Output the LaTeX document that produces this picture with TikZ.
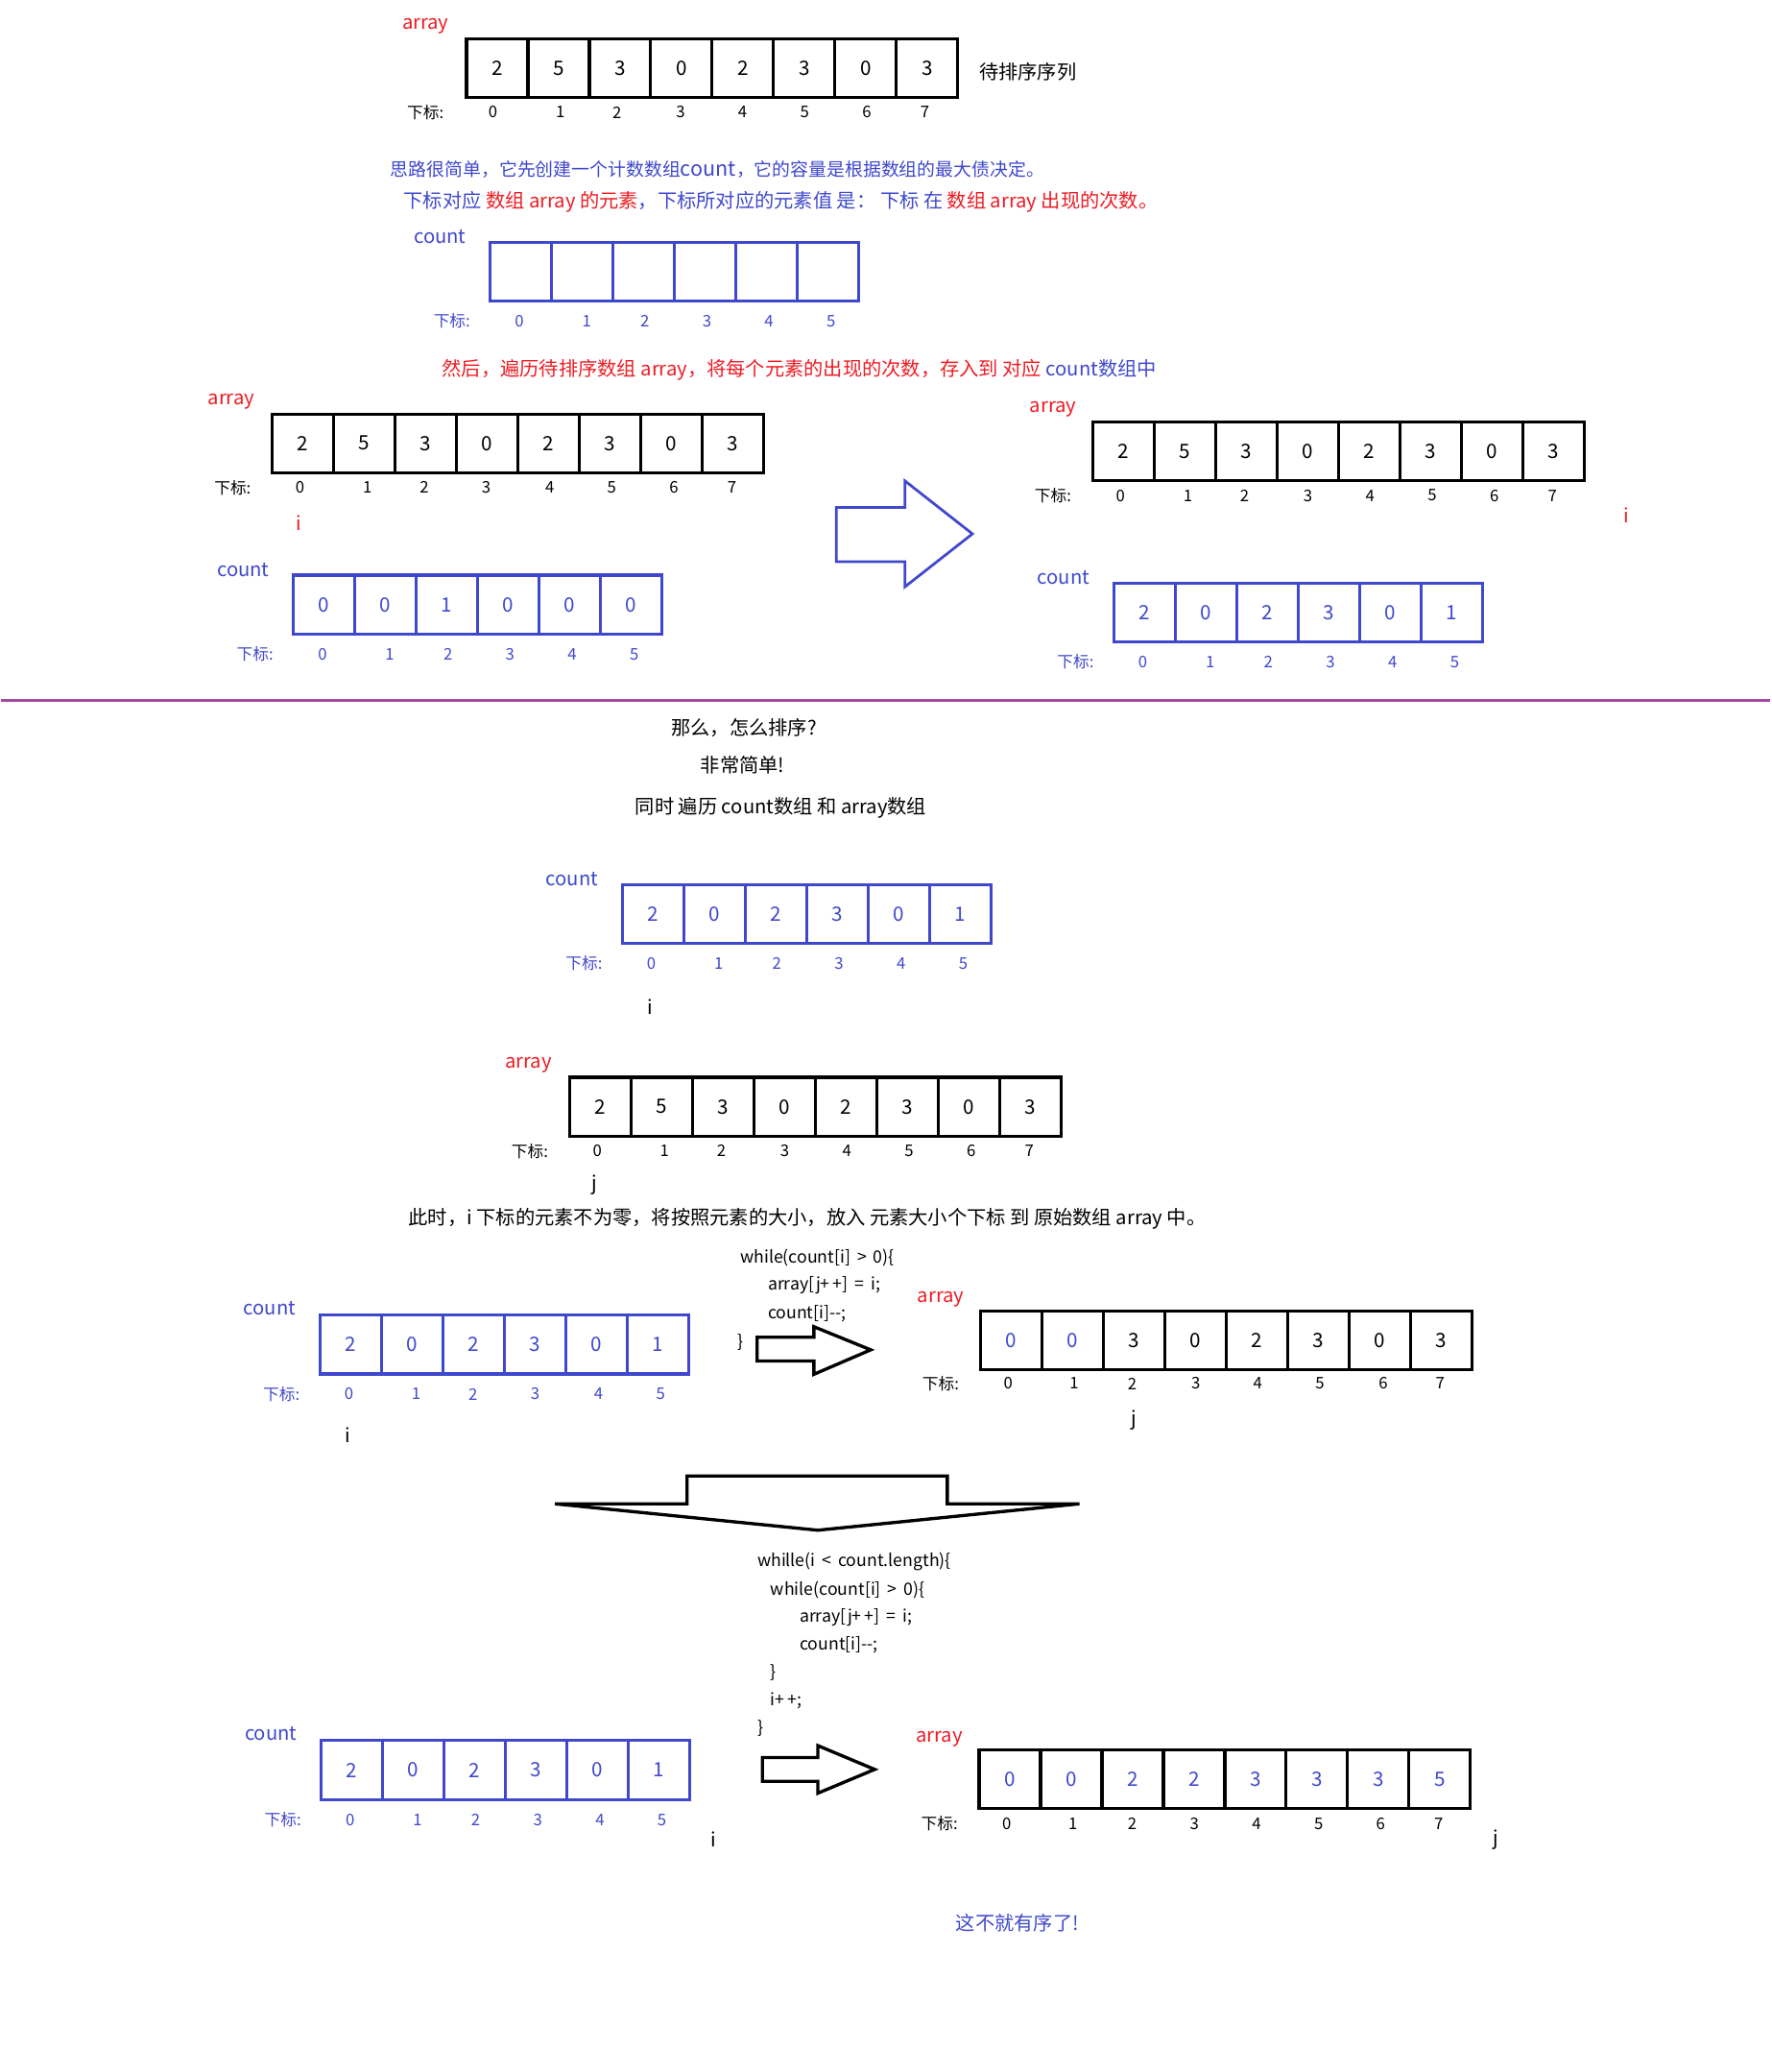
\documentclass[tikz,border=0pt]{standalone}
\usepackage{fontspec}
\setmainfont{Noto Sans CJK SC}
\usepackage{xcolor}
\definecolor{paintblue}{HTML}{3F48CC}
\definecolor{paintred}{HTML}{ED1C24}
\definecolor{paintpurple}{HTML}{A349A4}

\tikzset{
  lbl/.style={inner sep=0pt, font=\fontsize{10.3}{12}\selectfont},
  idx/.style={inner sep=0pt, font=\fontsize{8.5}{10}\selectfont},
  code/.style={inner sep=0pt, anchor=west, font=\fontsize{9}{11}\selectfont},
  cellbase/.style={rectangle, inner sep=0pt, minimum width=32.55pt, minimum height=31.15pt,
    line width=1.6pt, font=\fontsize{10.5}{12}\selectfont},
  blackcell/.style={cellbase, draw=black},
  bluecell/.style={cellbase, draw=paintblue, text=paintblue},
  blockarrow/.style={line width=1.7pt, fill=white, line join=miter},
}

% one row of cells: name, left, top, style, values
\newcommand{\cellrow}[5]{%
  \foreach \v [count=\k from 0] in {#5}
    \node[#4] (#1\k) at ({#2+23.25+46.5*\k},{#3+22.5}) {\v};}
% index numbers under a row: name, y, colour, x list
\newcommand{\idxrow}[4]{%
  \foreach \xx [count=\k from 0] in {#4}
    \node[idx, text=#3] (#1\k) at (\xx,#2) {\k};}

\begin{document}
\begin{tikzpicture}[x=0.7pt, y=-0.7pt]
\fill[white] (0,0) rectangle (1339,1568);

\node[lbl, text=paintred] (arrTop) at (321,20) {array};
\cellrow{top}{352}{29}{blackcell}{2,5,3,0,2,3,0,3}
\node[idx] (subTop) at (321,85) {下标:};
\idxrow{topi}{85}{black}{372,423,466,514,561,608,655,699}
\node[lbl] (seqTop) at (777,54) {待排序序列};

\node[lbl, text=paintblue, font=\fontsize{9.6}{11}\selectfont] (idea) at (542,128)
  {思路很简单，它先创建一个计数数组{\fontsize{11}{13}\selectfont count}，它的容量是根据数组的最大债决定。};
\node[lbl, text=paintblue] (meaning) at (590,153)
  {下标对应 \textcolor{paintred}{数组 array 的元素}，下标所对应的元素值 是： 下标 在 \textcolor{paintred}{数组 array 出现的次数。}};

\node[lbl, text=paintblue] (cntEmpty) at (332,179) {count};
\cellrow{empty}{370}{183}{bluecell}{{},{},{},{},{},{}}
\node[idx, text=paintblue] (subEmpty) at (341,243) {下标:};
\idxrow{emptyi}{243}{paintblue}{392,443,487,534,581,628}

\node[lbl, text=paintred] (thenTxt) at (604,280)
  {然后，遍历待排序数组 array，将每个元素的出现的次数，存入到 对应 \textcolor{paintblue}{count数组中}};

% before counting
\node[lbl, text=paintred] (arrL) at (174,304) {array};
\cellrow{left}{205}{313}{blackcell}{2,5,3,0,2,3,0,3}
\node[idx] (subL) at (175,369) {下标:};
\idxrow{lefti}{369}{black}{226,277,320,367,415,462,509,553}
\node[lbl, text=paintred] (iL) at (225,396) {i};
\node[lbl, text=paintblue] (cntL) at (183,431) {count};
\cellrow{cntLeft}{221}{435}{bluecell}{0,0,1,0,0,0}
\node[idx, text=paintblue] (subCL) at (192,495) {下标:};
\idxrow{cntLefti}{495}{paintblue}{243,294,338,385,432,479}

\draw[blockarrow, draw=paintblue, line width=1.4pt] (632,384) -- (684,384) -- (684,364) -- (735,404)
  -- (684,444) -- (684,425) -- (632,425) -- cycle;

% after counting
\node[lbl, text=paintred] (arrR) at (796,310) {array};
\cellrow{right}{826}{319}{blackcell}{2,5,3,0,2,3,0,3}
\node[idx] (subR) at (796,375) {下标:};
\idxrow{righti}{375}{black}{847,898,941,989,1036,1083,1130,1174}
\node[lbl, text=paintred] (iR) at (1230,390) {i};
\node[lbl, text=paintblue] (cntR) at (804,437) {count};
\cellrow{cntRight}{842}{441}{bluecell}{2,0,2,3,0,1}
\node[idx, text=paintblue] (subCR) at (813,501) {下标:};
\idxrow{cntRighti}{501}{paintblue}{864,915,959,1006,1053,1100}

\draw[paintpurple, line width=1.5pt] (0,530) -- (1339,530);

\node[lbl] (how) at (562,551) {那么，怎么排序?};
\node[lbl] (easy) at (561,579) {非常简单!};
\node[lbl] (both) at (590,611) {同时 遍历 count数组 和 array数组};

\node[lbl, text=paintblue] (cntM) at (432,665) {count};
\cellrow{cntMid}{470}{669}{bluecell}{2,0,2,3,0,1}
\node[idx, text=paintblue] (subCM) at (441,729) {下标:};
\idxrow{cntMidi}{729}{paintblue}{492,543,587,634,681,728}
\node[lbl] (iM) at (491,762) {i};
\node[lbl, text=paintred] (arrM) at (399,806) {array};
\cellrow{mid}{430}{815}{blackcell}{2,5,3,0,2,3,0,3}
\node[idx] (subM) at (400,871) {下标:};
\idxrow{midi}{871}{black}{451,502,545,593,640,687,734,778}
\node[lbl] (jM) at (449,897) {j};
\node[lbl] (note) at (610,922)
  {此时，i 下标的元素不为零，将按照元素的大小，放入 元素大小个下标 到 原始数组 array 中。};

% one step
\node[code] (cA1) at (559,952) {while(count[i] \,>\, 0)\{};
\node[code] (cA2) at (580,973) {array[j+\,+] \,=\, i;};
\node[code] (cA3) at (580,994) {count[i]{-}{-};};
\node[code] (cA4) at (557,1016) {\}};

\node[lbl, text=paintblue] (cntS) at (203,990) {count};
\cellrow{cntStep}{241}{995}{bluecell}{2,0,2,3,0,1}
\node[idx, text=paintblue] (subCS) at (212,1055) {下标:};
\idxrow{cntStepi}{1055}{paintblue}{263,314,357,404,452,499}
\node[lbl] (iS) at (262,1086) {i};

\draw[blockarrow] (572,1012) -- (615,1012) -- (615,1004) -- (658,1021.5)
  -- (615,1040) -- (615,1030) -- (572,1030) -- cycle;

\node[lbl, text=paintred] (arrS) at (711,983) {array};
\cellrow{step}{741}{992}{blackcell}{{\color{paintblue}0},{\color{paintblue}0},3,0,2,3,0,3}
\node[idx] (subS) at (711,1047) {下标:};
\idxrow{stepi}{1047}{black}{762,812,856,904,951,998,1046,1089}
\node[lbl] (jS) at (857,1075) {j};

\draw[blockarrow] (519,1117) -- (716,1117) -- (716,1138) -- (816,1138) -- (618,1158)
  -- (419,1138) -- (519,1138) -- cycle;

% whole loop
\node[code] (cB1) at (572,1182) {whille(i \,<\, count.length)\{};
\node[code] (cB2) at (582,1203) {while(count[i] \,>\, 0)\{};
\node[code] (cB3) at (604,1224) {array[j+\,+] \,=\, i;};
\node[code] (cB4) at (604,1245) {count[i]{-}{-};};
\node[code] (cB5) at (582,1266) {\}};
\node[code] (cB6) at (582,1287) {i+\,+;};
\node[code] (cB7) at (572,1308) {\}};

\node[lbl, text=paintblue] (cntE) at (204,1312) {count};
\cellrow{cntEnd}{242}{1317}{bluecell}{2,0,2,3,0,1}
\node[idx, text=paintblue] (subCE) at (213,1377) {下标:};
\idxrow{cntEndi}{1377}{paintblue}{264,315,359,406,453,500}
\node[lbl] (iE) at (539,1392) {i};

\draw[blockarrow] (576,1330) -- (618,1330) -- (618,1321) -- (661,1339)
  -- (618,1357) -- (618,1348) -- (576,1348) -- cycle;

\node[lbl, text=paintred] (arrE) at (710,1316) {array};
\cellrow{end}{740}{1324}{blackcell, text=paintblue}{0,0,2,2,3,3,3,5}
\node[idx] (subE) at (710,1380) {下标:};
\idxrow{endi}{1380}{black}{761,811,856,903,950,997,1044,1088}
\node[lbl] (jE) at (1131,1392) {j};

\node[lbl, text=paintblue] (done) at (769,1455) {这不就有序了!};
\end{tikzpicture}
\end{document}
